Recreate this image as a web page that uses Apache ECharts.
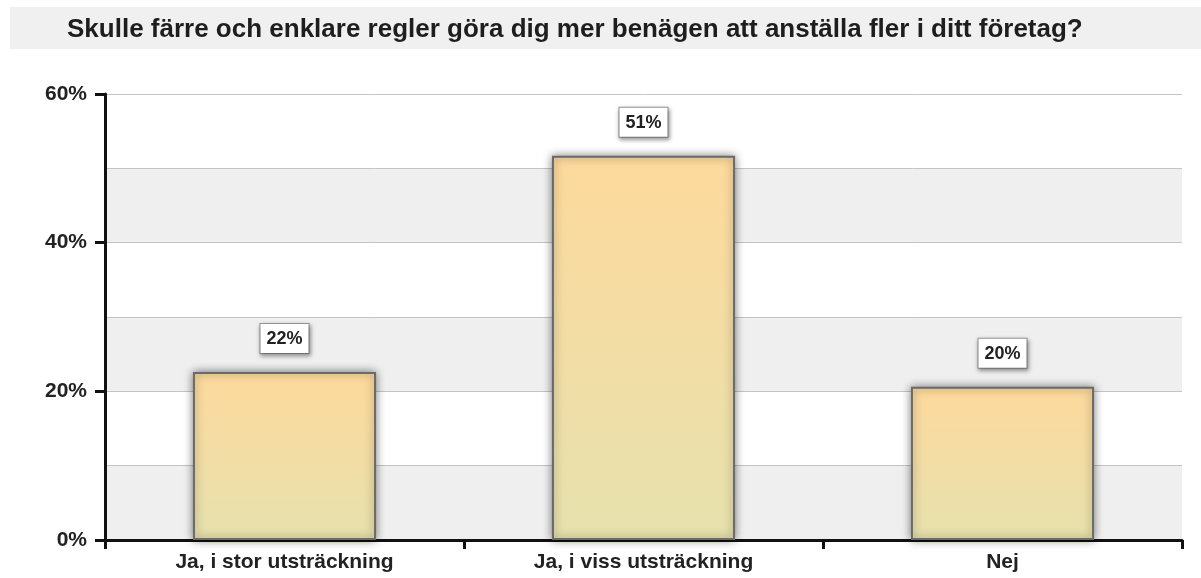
<!DOCTYPE html>
<html>
<head>
<meta charset="utf-8">
<script src="https://cdn.jsdelivr.net/npm/echarts@6/dist/echarts.min.js"></script>
<style>
  html, body { margin: 0; padding: 0; background: #fff; }
  #chart { width: 1201px; height: 578px; }
</style>
</head>
<body>
<div id="chart"></div>
<script>
var categories = ['Ja, i stor utsträckning', 'Ja, i viss utsträckning', 'Nej'];
var shares = [22.6, 51.7, 20.6];
var shareLabels = ['22%', '51%', '20%'];
var yTicks = [0, 20, 40, 60];

var chart = echarts.init(document.getElementById('chart'));

var option = {
    backgroundColor: '#fff',
    title: {
        text: 'Skulle färre och enklare regler göra dig mer benägen att anställa fler i ditt företag?',
        left: 62,
        top: 12,
        textStyle: { fontFamily: 'Liberation Sans', fontWeight: 'bold', fontSize: 26, color: '#1e1e1e' }
    },
    graphic: [
        { type: 'rect', z: -10, shape: { x: 10, y: 7, width: 1191, height: 42 }, style: { fill: '#f0f0f0' } }
    ],
    grid: { left: 105, right: 19, top: 94, bottom: 38 },
    xAxis: {
        type: 'category',
        data: categories,
        axisLine: { lineStyle: { color: '#111', width: 3 } },
        axisTick: { show: true, length: 9, lineStyle: { color: '#111', width: 3 } },
        axisLabel: { fontFamily: 'Liberation Sans', fontWeight: 'bold', fontSize: 21, color: '#222', margin: 12 }
    },
    yAxis: [
        {
            type: 'value',
            min: 0, max: 60, interval: 20,
            axisLine: { show: true, lineStyle: { color: '#111', width: 3 } },
            axisTick: { show: true, length: 10, lineStyle: { color: '#111', width: 3 } },
            axisLabel: {
                fontFamily: 'Liberation Sans', fontWeight: 'bold', fontSize: 21, color: '#222', margin: 18,
                formatter: function (v) { return yTicks.indexOf(v) >= 0 ? v + '%' : ''; }
            },
            splitLine: { show: false }
        },
        {
            type: 'value',
            min: 0, max: 60, interval: 10,
            position: 'left',
            axisLine: { show: false },
            axisTick: { show: false },
            axisLabel: { show: false },
            splitLine: { show: true, lineStyle: { color: '#c4c4c4', width: 1 } },
            splitArea: { show: true, areaStyle: { color: ['#efefef', '#ffffff'] } }
        }
    ],
    series: [
        {
            type: 'bar',
            data: shares,
            barWidth: '51%',
            itemStyle: {
                color: new echarts.graphic.LinearGradient(0, 0, 0, 1, [
                    { offset: 0, color: '#fdd99c' },
                    { offset: 1, color: '#e6e1ad' }
                ]),
                borderColor: '#6a6a6a',
                borderWidth: 2,
                shadowBlur: 9,
                shadowColor: 'rgba(0,0,0,0.5)'
            },
            label: {
                show: true,
                position: 'top',
                distance: 19,
                formatter: function (p) { return shareLabels[p.dataIndex]; },
                fontFamily: 'Liberation Sans', fontWeight: 'bold', fontSize: 18, color: '#222',
                backgroundColor: '#fff',
                borderColor: '#999',
                borderWidth: 1,
                padding: [6, 6, 5, 6],
                shadowBlur: 4,
                shadowOffsetX: 1,
                shadowOffsetY: 2,
                shadowColor: 'rgba(0,0,0,0.35)'
            }
        }
    ]
};

chart.setOption(option);
</script>
</body>
</html>
